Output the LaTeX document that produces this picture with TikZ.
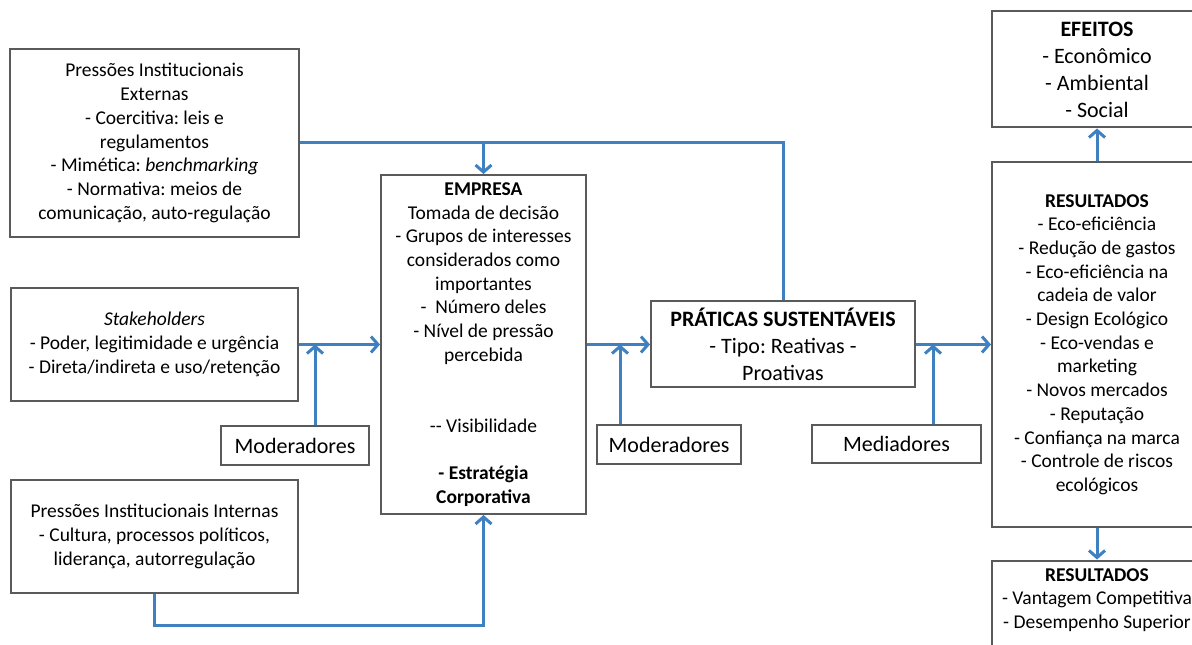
\documentclass[tikz,border=0pt]{standalone}
\usepackage{fontspec}
\setmainfont{Carlito}
\frenchspacing
\usepackage{tikz}
\usetikzlibrary{shapes.geometric, arrows.meta}
\definecolor{boxgrey}{HTML}{5A5A5A}
\definecolor{linkblue}{HTML}{3E80C0}
\newcommand{\txtnormal}{\fontsize{19.5}{23.7}\selectfont}
\newcommand{\txtlarge}{\fontsize{22}{27}\selectfont}
\tikzstyle{pressure} = [rectangle, minimum width=287pt, minimum height=113pt, inner sep=4pt,
text centered, align=center, draw=boxgrey, line width=2pt, font=\txtnormal]
\tikzstyle{firm} = [rectangle, minimum width=205pt, minimum height=339pt, inner sep=4pt,
text centered, align=center, draw=boxgrey, line width=2pt, font=\txtnormal]
\tikzstyle{practice} = [rectangle, minimum width=264pt, minimum height=86pt, inner sep=4pt,
text centered, align=center, draw=boxgrey, line width=2pt, font=\txtlarge]
\tikzstyle{moderator} = [rectangle, minimum width=146pt, minimum height=38pt, inner sep=4pt,
text centered, draw=boxgrey, line width=2pt, font=\txtlarge]
\tikzstyle{result} = [rectangle, minimum width=210pt, minimum height=116pt, inner sep=4pt,
text centered, align=center, draw=boxgrey, line width=2pt, font=\txtnormal]
\tikzstyle{link} = [line width=3pt, draw=linkblue]
\tikzstyle{arrow} = [line width=3pt, draw=linkblue, ->, >={Straight Barb[length=7pt, width=16pt]}]

\begin{document}
\begin{tikzpicture}[node distance = 192pt]

\useasboundingbox (-154.5pt,344.5pt) rectangle (1037.5pt,-300.5pt);
\clip (-154.5pt,344.5pt) rectangle (1037.5pt,-300.5pt);

% ------------------------- nodes -------------------------

% ----- node: 1
\node(1)[pressure] {\textit{Stakeholders}\\- Poder, legitimidade e urgência\\- Direta/indireta e uso/retenção};
% ----- node: 0
\node(0)[pressure, above of=1, yshift=9.5pt, minimum width=288pt, minimum height=188pt] {Pressões Institucionais\\Externas\\- Coercitiva: leis e\\regulamentos\\- Mimética: \textit{benchmarking}\\- Normativa: meios de\\comunicação, auto-regulação};
% ----- node: 2
\node(2)[pressure, below of=1] {Pressões Institucionais Internas\\- Cultura, processos políticos,\\liderança, autorregulação};
% ----- node: 3
\node(3)[firm, right of=1, xshift=137pt] {\textbf{EMPRESA}\\Tomada de decisão\\- Grupos de interesses\\considerados como\\importantes\\- \ Número deles\\- Nível de pressão\\percebida\\[47.4pt]-{}- Visibilidade\\[23.7pt]\textbf{- Estratégia}\\\textbf{Corporativa}};
% ----- node: 4
\node(4)[moderator, left of=3, xshift=3.5pt, yshift=-101pt, minimum width=148pt] {Moderadores};
% ----- node: 5
\node(5)[practice, right of=3, xshift=107.5pt] {\textbf{PRÁTICAS SUSTENTÁVEIS}\\- Tipo: Reativas -\\Proativas};
% ----- node: 6
\node(6)[moderator, left of=5, xshift=78pt, yshift=-100pt, minimum width=144pt] {Moderadores};
% ----- node: 7
\node(7)[moderator, right of=5, xshift=-78.5pt, yshift=-99.5pt, minimum width=169pt] {Mediadores};
% ----- node: 8
\node(8)[result, right of=5, xshift=122pt, minimum height=364pt] {\textbf{RESULTADOS}\\- Eco-eficiência\\- Redução de gastos\\- Eco-eficiência na\\cadeia de valor\\- Design Ecológico\\- Eco-vendas e\\marketing\\- Novos mercados\\- Reputação\\- Confiança na marca\\- Controle de riscos\\ecológicos};
% ----- node: 9
\node(9)[result, above of=8, yshift=83pt, font=\txtlarge] {\textbf{EFEITOS}\\- Econômico\\- Ambiental\\- Social};
% ----- node: 10
\node(10)[result, below of=8, anchor=north, yshift=-23pt, minimum height=0pt, inner ysep=8pt, text depth=60pt] {\textbf{RESULTADOS}\\- Vantagem Competitiva\\- Desempenho Superior};

% ------------------------- arrows -------------------------

\draw[link] (0.east) -| (5.north);
\draw[arrow] (0.east -| 3.north) -- (3.north);
\draw[arrow] (1.east) -- (3.west);
\draw[arrow] ([xshift=20pt]4.north) -- ([xshift=20pt]4.north |- 1.east);
\draw[arrow] (2.south) -- ++(0,-31pt) -| (3.south);
\draw[arrow] (3.east) -- (3.east -| 5.west);
\draw[arrow] ([xshift=-49pt]6.north) -- ([xshift=-49pt]6.north |- 3.east);
\draw[arrow] (5.east) -- (5.east -| 8.west);
\draw[arrow] ([xshift=36.5pt]7.north) -- ([xshift=36.5pt]7.north |- 5.east);
\draw[arrow] (8.north) -- (9.south);
\draw[arrow] (8.south) -- (10.north);

\end{tikzpicture}
\end{document}
